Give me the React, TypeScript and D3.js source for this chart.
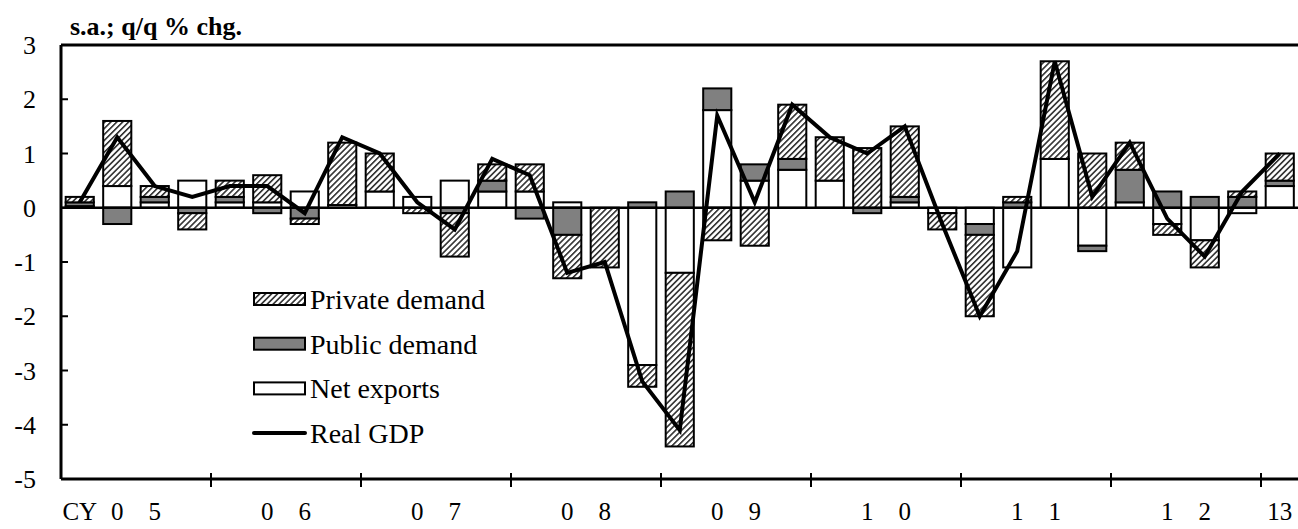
import React from "react";
import * as d3 from "d3";

// Quarters CY2005Q1 .. CY2013Q1
const quarters: string[] = [
  "05Q1","05Q2","05Q3","05Q4","06Q1","06Q2","06Q3","06Q4",
  "07Q1","07Q2","07Q3","07Q4","08Q1","08Q2","08Q3","08Q4",
  "09Q1","09Q2","09Q3","09Q4","10Q1","10Q2","10Q3","10Q4",
  "11Q1","11Q2","11Q3","11Q4","12Q1","12Q2","12Q3","12Q4","13Q1",
];

const xTickLabels: string[] = [
  "CY","0","5","",
  "","0","6","",
  "","0","7","",
  "","0","8","",
  "","0","9","",
  "","1","0","",
  "","1","1","",
  "","1","2","",
  "13",
];

const netExports: number[] = [
  0.03, 0.4, 0.1, 0.5, 0.1, 0.1, 0.3, 0.05,
  0.3, 0.2, 0.5, 0.3, 0.3, 0.1, 0, -2.9,
  -1.2, 1.8, 0.5, 0.7, 0.5, 0, 0.1, -0.1,
  -0.3, -1.1, 0.9, -0.7, 0.1, -0.3, -0.6, -0.1, 0.4,
];
const publicDemand: number[] = [
  0.07, -0.3, 0.1, -0.1, 0.1, -0.1, -0.2, 0,
  0, 0, -0.1, 0.2, -0.2, -0.5, 0, 0.1,
  0.3, 0.4, 0.3, 0.2, 0, -0.1, 0.1, 0,
  -0.2, 0.1, 0, -0.1, 0.6, 0.3, 0.2, 0.2, 0.1,
];
const privateDemand: number[] = [
  0.1, 1.2, 0.2, -0.3, 0.3, 0.5, -0.1, 1.15,
  0.7, -0.1, -0.8, 0.3, 0.5, -0.8, -1.1, -0.4,
  -3.2, -0.6, -0.7, 1.0, 0.8, 1.1, 1.3, -0.3,
  -1.5, 0.1, 1.8, 1.0, 0.5, -0.2, -0.5, 0.1, 0.5,
];
const realGDP: number[] = [
  0.1, 1.3, 0.4, 0.2, 0.4, 0.4, -0.1, 1.3,
  1.0, 0.1, -0.4, 0.9, 0.6, -1.2, -1.0, -3.2,
  -4.1, 1.7, 0.1, 1.9, 1.3, 1.0, 1.5, -0.3,
  -2.0, -0.8, 2.7, 0.2, 1.2, -0.2, -0.9, 0.3, 1.0,
];

const yTicks: number[] = [-5, -4, -3, -2, -1, 0, 1, 2, 3];
const seriesKeys = ["net", "pub", "priv"] as const;
const legendItems = [
  { key: "priv", label: "Private demand" },
  { key: "pub", label: "Public demand" },
  { key: "net", label: "Net exports" },
  { key: "gdp", label: "Real GDP" },
];

const W = 1298;
const H = 529;
const M = { left: 61, top: 45, bottom: 479 };
const FONT = "Liberation Serif, Times New Roman, Times, serif";

const fillFor = (k: string) =>
  k === "priv" ? "url(#hatch)" : k === "pub" ? "#808080" : "#ffffff";

export default function App() {
  const step = 37.5;
  const x = d3
    .scaleBand<string>()
    .domain(quarters)
    .range([M.left, M.left + step * quarters.length])
    .paddingInner(0.25)
    .paddingOuter(0.125);
  const y = d3.scaleLinear().domain([-5, 3]).range([M.bottom, M.top]);

  const rows = quarters.map((q, i) => ({
    q,
    net: netExports[i],
    pub: publicDemand[i],
    priv: privateDemand[i],
  }));
  const stacked = d3
    .stack<any>()
    .keys(seriesKeys as any)
    .offset(d3.stackOffsetDiverging)(rows);

  const cx = (q: string) => (x(q) as number) + x.bandwidth() / 2;
  const line = d3
    .line<number>()
    .x((_, i) => cx(quarters[i]))
    .y((d) => y(d));

  const yearBounds = d3.range(1, 9).map((k) => M.left + step * 4 * k);
  const textStyle = { fontFamily: FONT };

  return (
    <svg
      width={W}
      height={H}
      style={{ position: "absolute", left: 0, top: 0, display: "block", background: "#fff", fontFamily: FONT }}
    >
      <defs>
        <pattern
          id="hatch"
          patternUnits="userSpaceOnUse"
          width={4.2}
          height={4.2}
          patternTransform="rotate(45)"
        >
          <rect width={4.2} height={4.2} fill="#fff" />
          <line x1={0.8} y1={0} x2={0.8} y2={4.2} stroke="#222" strokeWidth={1.5} />
        </pattern>
      </defs>

      {/* bars */}
      {stacked.map((s) => (
        <g key={s.key}>
          {s.map((d, i) => {
            const y0 = y(d[0]);
            const y1 = y(d[1]);
            if (Math.abs(y0 - y1) < 0.01) return null;
            return (
              <rect
                key={i}
                x={x(quarters[i])}
                y={Math.min(y0, y1)}
                width={x.bandwidth()}
                height={Math.abs(y0 - y1)}
                fill={fillFor(s.key)}
                stroke="#000"
                strokeWidth={2}
              />
            );
          })}
        </g>
      ))}

      {/* zero line */}
      <line x1={M.left} x2={W} y1={y(0)} y2={y(0)} stroke="#000" strokeWidth={2.5} />

      {/* frame */}
      <line x1={M.left} x2={W} y1={M.top} y2={M.top} stroke="#000" strokeWidth={3} />
      <line x1={M.left} x2={M.left} y1={M.top} y2={M.bottom} stroke="#000" strokeWidth={3} />
      <line x1={M.left} x2={W} y1={M.bottom} y2={M.bottom} stroke="#000" strokeWidth={3} />

      {/* y ticks */}
      {yTicks.map((t) => (
        <g key={t}>
          <line x1={M.left} x2={M.left + 7} y1={y(t)} y2={y(t)} stroke="#000" strokeWidth={2} />
          <text
            x={36}
            y={y(t)}
            dy="0.35em"
            textAnchor="end"
            fontSize={26}
            fill="#000"
            style={textStyle}
          >
            {t}
          </text>
        </g>
      ))}

      {/* x ticks */}
      {yearBounds.map((bx) => (
        <line key={bx} x1={bx} x2={bx} y1={M.bottom - 6} y2={M.bottom + 8} stroke="#000" strokeWidth={2} />
      ))}
      {xTickLabels.map((lab, i) =>
        lab ? (
          <text
            key={i}
            x={cx(quarters[i])}
            y={520}
            textAnchor="middle"
            fontSize={25}
            fill="#000"
            style={textStyle}
          >
            {lab}
          </text>
        ) : null
      )}

      {/* GDP line */}
      <path
        d={line(realGDP) as string}
        fill="none"
        stroke="#000"
        strokeWidth={4}
        strokeLinejoin="miter"
      />

      {/* unit label */}
      <text x={70} y={35} fontSize={26} fontWeight="bold" fill="#000" style={textStyle}>
        s.a.; q/q % chg.
      </text>

      {/* legend */}
      {legendItems.map((it, i) => {
        const cy = 299 + i * 44.7;
        return (
          <g key={it.key}>
            {it.key === "gdp" ? (
              <line x1={254} x2={305} y1={cy} y2={cy} stroke="#000" strokeWidth={4} strokeLinecap="round" />
            ) : (
              <rect x={254} y={cy - 6} width={51} height={12} fill={fillFor(it.key)} stroke="#000" strokeWidth={2} />
            )}
            <text x={310} y={cy} dy="0.36em" fontSize={28} fill="#000" style={textStyle}>
              {it.label}
            </text>
          </g>
        );
      })}
    </svg>
  );
}
